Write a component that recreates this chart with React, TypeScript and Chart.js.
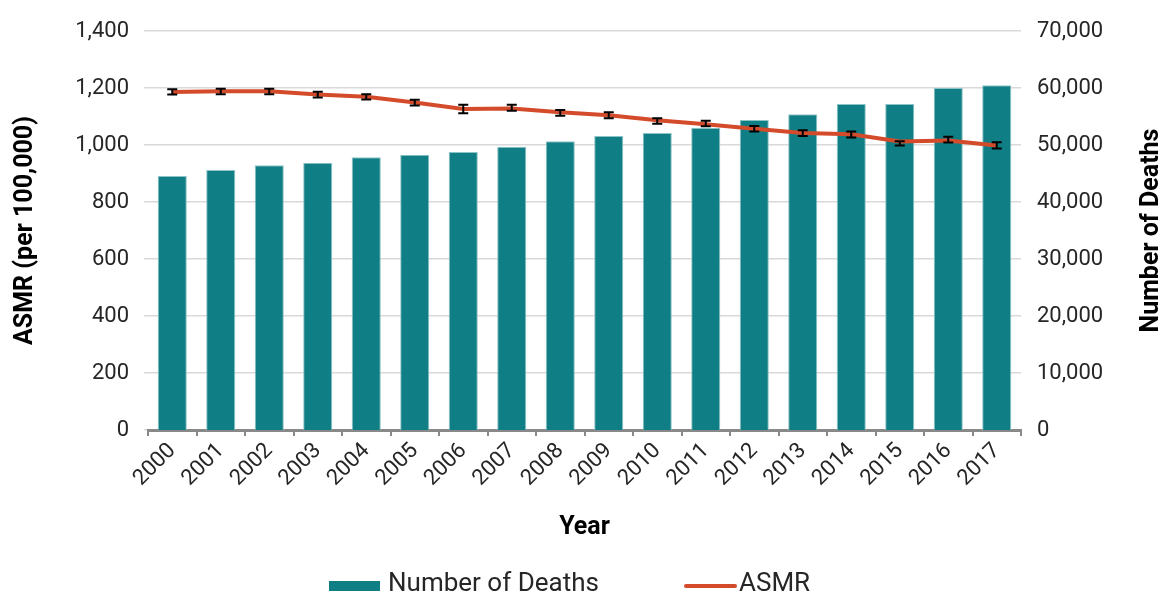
import React, { useEffect, useRef } from "react";
import { Chart, registerables } from "chart.js";

Chart.register(...registerables);

const years = ["2000", "2001", "2002", "2003", "2004", "2005", "2006", "2007", "2008", "2009", "2010", "2011", "2012", "2013", "2014", "2015", "2016", "2017"];
const deaths = [44560, 45610, 46440, 46900, 47840, 48300, 48770, 49700, 50650, 51580, 52100, 53040, 54390, 55390, 57190, 57190, 60000, 60470];
const asmr = [1186, 1189, 1189, 1177, 1169, 1149, 1126, 1128, 1115, 1104, 1087, 1073, 1057, 1042, 1038, 1012, 1016, 998];
const asmrLower = [1177, 1178, 1178, 1167, 1160, 1139, 1111, 1120, 1103, 1094, 1075, 1066, 1047, 1032, 1026, 998, 1009, 988];
const asmrUpper = [1196, 1197, 1197, 1187, 1178, 1159, 1141, 1141, 1123, 1115, 1094, 1085, 1067, 1052, 1047, 1013, 1029, 1010];
const leftRange = [0, 1400];
const leftStep = 200;
const rightRange = [0, 70000];
const rightStep = 10000;
const legendLabels = ["Number of Deaths", "ASMR"];
const axisTitles = { left: "ASMR (per 100,000)", right: "Number of Deaths", bottom: "Year" };

const FONT = 'Roboto, "DejaVu Sans", sans-serif';
const TEAL = "#107f85";
const RED = "#d44b2b";
const TEXT = "#262626";

const errorBarPlugin = {
  id: "errorBars",
  afterDatasetsDraw(chart: any) {
    const meta = chart.getDatasetMeta(1);
    const yScale = chart.scales.y;
    const ctx = chart.ctx;
    ctx.save();
    ctx.strokeStyle = "#000";
    ctx.lineWidth = 2;
    meta.data.forEach((pt: any, i: number) => {
      const x = pt.x;
      const yl = yScale.getPixelForValue(asmrLower[i]);
      const yu = yScale.getPixelForValue(asmrUpper[i]);
      ctx.beginPath();
      ctx.moveTo(x, yl);
      ctx.lineTo(x, yu);
      ctx.moveTo(x - 5, yl);
      ctx.lineTo(x + 5, yl);
      ctx.moveTo(x - 5, yu);
      ctx.lineTo(x + 5, yu);
      ctx.stroke();
    });
    ctx.restore();
  },
};

const extrasPlugin = {
  id: "extras",
  afterDraw(chart: any) {
    const ctx = chart.ctx;
    const area = chart.chartArea;
    ctx.save();
    // right axis title (reads bottom to top)
    ctx.fillStyle = "#000";
    ctx.font = `bold 25px ${FONT}`;
    ctx.textAlign = "center";
    ctx.textBaseline = "middle";
    ctx.translate(1152, (area.top + area.bottom) / 2);
    ctx.rotate(-Math.PI / 2);
    ctx.fillText(axisTitles.right, 0, 0);
    ctx.restore();

    // legend
    ctx.save();
    const ly = 586;
    ctx.fillStyle = TEAL;
    ctx.fillRect(329, ly - 5, 51, 10);
    ctx.strokeStyle = RED;
    ctx.lineWidth = 4;
    ctx.lineCap = "round";
    ctx.beginPath();
    ctx.moveTo(686, ly);
    ctx.lineTo(735, ly);
    ctx.stroke();
    ctx.fillStyle = TEXT;
    ctx.font = `26px ${FONT}`;
    ctx.textAlign = "left";
    ctx.textBaseline = "middle";
    ctx.fillText(legendLabels[0], 388, ly - 2);
    ctx.fillText(legendLabels[1], 739, ly - 2);
    ctx.restore();
  },
};

export default function App() {
  const ref = useRef<HTMLCanvasElement>(null);
  useEffect(() => {
    if (!ref.current) return;
    const fmt = (v: any) => Number(v).toLocaleString("en-US");
    const chart = new Chart(ref.current, {
      type: "bar",
      data: {
        labels: years,
        datasets: [
          {
            type: "bar",
            label: legendLabels[0],
            data: deaths,
            yAxisID: "y1",
            backgroundColor: TEAL,
            borderColor: "#8fc4c6",
            borderWidth: 1,
            barPercentage: 0.6,
            categoryPercentage: 1.0,
            order: 2,
          } as any,
          {
            type: "line",
            label: legendLabels[1],
            data: asmr,
            yAxisID: "y",
            borderColor: RED,
            borderWidth: 4,
            pointRadius: 0,
            tension: 0,
            fill: false,
            order: 1,
          } as any,
        ],
      },
      options: {
        responsive: false,
        animation: false,
        layout: { padding: { top: 31, bottom: 41, left: 0, right: 0 } },
        plugins: { legend: { display: false }, tooltip: { enabled: false } },
        scales: {
          x: {
            offset: true,
            grid: { display: true, drawOnChartArea: false, offset: true, tickLength: 6, color: "#898989", lineWidth: 2 },
            border: { display: true, color: "#898989", width: 3 },
            ticks: { font: { family: FONT, size: 22 }, color: TEXT, maxRotation: 45, minRotation: 45, padding: 2, autoSkip: false },
            title: { display: true, text: axisTitles.bottom, color: "#000", font: { family: FONT, size: 25, weight: "bold" }, padding: { top: 0, bottom: 12 } },
            afterFit: (s: any) => { s.height = 125; },
          },
          y: {
            position: "left",
            min: leftRange[0],
            max: leftRange[1],
            ticks: { stepSize: leftStep, callback: fmt, padding: 15, font: { family: FONT, size: 22 }, color: TEXT },
            grid: { color: "#d9d9d9", lineWidth: 1.5, tickLength: 4 },
            border: { display: false },
            title: { display: true, text: axisTitles.left, color: "#000", font: { family: FONT, size: 25, weight: "bold" }, padding: { top: 11, bottom: 0 } },
            afterFit: (s: any) => { s.width = 148; },
          },
          y1: {
            position: "right",
            min: rightRange[0],
            max: rightRange[1],
            ticks: { stepSize: rightStep, callback: fmt, padding: 16, font: { family: FONT, size: 22 }, color: TEXT },
            grid: { display: false, drawOnChartArea: false, drawTicks: false },
            border: { display: false },
            afterFit: (s: any) => { s.width = 144; },
          },
        },
      } as any,
      plugins: [errorBarPlugin, extrasPlugin],
    });
    return () => chart.destroy();
  }, []);
  return (
    <div style={{ position: "absolute", left: 0, top: 0, width: 1165, height: 596, background: "#fff" }}>
      <canvas ref={ref} width={1165} height={596} />
    </div>
  );
}
